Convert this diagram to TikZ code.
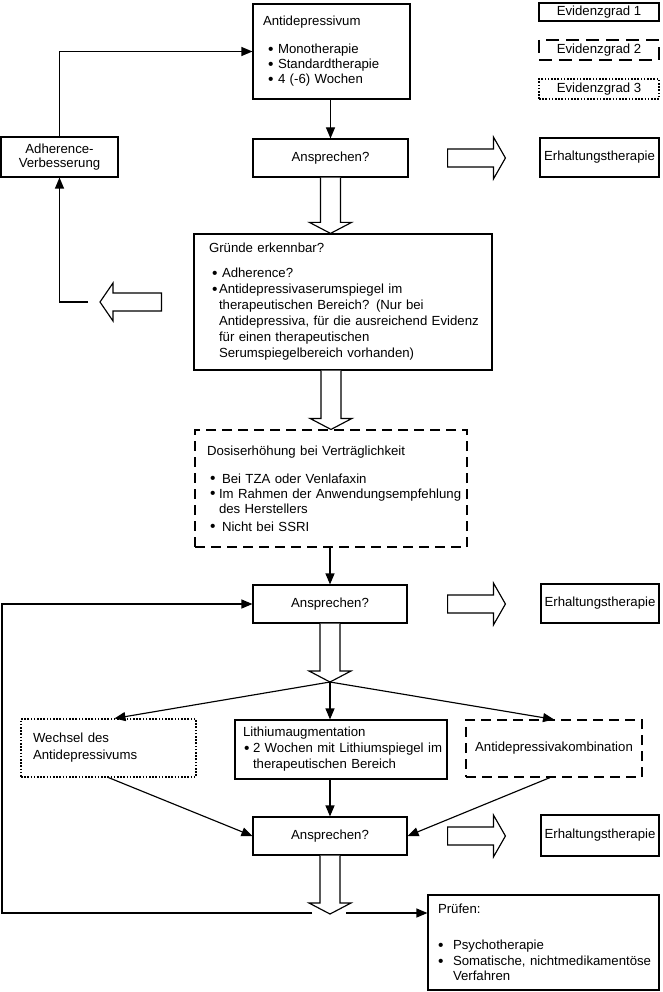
\documentclass[tikz,border=0pt]{standalone}
\usepackage{fontspec}
\setmainfont{Liberation Sans}
\usetikzlibrary{arrows.meta,calc}
\newcommand{\fs}{\fontsize{13.2}{15.5}\selectfont}
\newcommand{\lx}[1]{\leftskip=#1\relax\hyphenpenalty=10000\relax}
\newcommand{\bdot}{\smash{\raisebox{-0.6pt}{\fontsize{15.5}{15.5}\selectfont •}}}
\newcommand{\bu}[2]{\hspace*{#1}\makebox[#2][l]{\bdot}}
\newcommand{\blockdown}[3]{\path[blk] let \p1=(#1), \p2=(#2), \p3=(#3) in
  (\x1-10pt,\y2) -- (\x1-10pt,\y3+11pt) -- (\x1-21pt,\y3+11pt) -- (\x1,\y3) --
  (\x1+21pt,\y3+11pt) -- (\x1+10pt,\y3+11pt) -- (\x1+10pt,\y2);}
\newcommand{\blockright}[3]{\path[blk] let \p1=(#1), \p2=(#2), \p3=(#3) in
  (\x2,\y1+9pt) -- (\x3-12pt,\y1+9pt) -- (\x3-12pt,\y1+21pt) -- (\x3,\y1) --
  (\x3-12pt,\y1-21pt) -- (\x3-12pt,\y1-9pt) -- (\x2,\y1-9pt) -- cycle;}
\newcommand{\blockleft}[3]{\path[blk] let \p1=(#1), \p2=(#2), \p3=(#3) in
  (\x2,\y1+9pt) -- (\x3+13pt,\y1+9pt) -- (\x3+13pt,\y1+19pt) -- (\x3,\y1) --
  (\x3+13pt,\y1-19pt) -- (\x3+13pt,\y1-9pt) -- (\x2,\y1-9pt) -- cycle;}
\tikzset{
  base/.style={draw, line width=1.15pt, inner ysep=0pt, font=\fs},
  cbox/.style={base, inner xsep=2pt, align=center},
  lbox/.style={base, inner xsep=0pt, align=left},
  dashbox/.style={dash pattern=on 10pt off 6pt},
  dotbox/.style={dash pattern=on 1.6pt off 1.6pt},
  arr/.style={line width=1.15pt, -{Triangle[length=11pt,width=9pt]}},
  blk/.style={draw, line width=1.15pt, fill=white, line join=miter},
}
\begin{document}
\begin{tikzpicture}[x=1pt,y=-1pt]
\useasboundingbox (0,0) rectangle (662,992);

% legend
\node[cbox, minimum width=120, minimum height=18] (e1) at (599,12) {Evidenzgrad 1};
\node[cbox, dash pattern=on 13pt off 7pt, minimum width=120, minimum height=20] (e2) at (599,50) {Evidenzgrad 2};
\node[cbox, dotbox, minimum width=120, minimum height=20] (e3) at (599,89) {Evidenzgrad 3};

% top
\node[lbox, text width=157pt, minimum width=157, minimum height=95, font=\fontsize{13.2}{15}\selectfont] (A) at (331.5,51.5)
 {\lx{10pt}Antidepressivum\\[13pt]
  \bu{5pt}{10pt}Monotherapie\\
  \bu{5pt}{10pt}Standardtherapie\\
  \bu{5pt}{10pt}4 (-6) Wochen\par};

\node[cbox, minimum width=117, minimum height=40, font=\fontsize{13.2}{14}\selectfont] (adh) at (59.5,157) {Adherence-\\Verbesserung};
\node[cbox, minimum width=155, minimum height=38] (ans1) at (330.5,158) {Ansprechen?};
\node[cbox, minimum width=119, minimum height=39] (erh1) at (599.5,157.5) {Erhaltungstherapie};

\node[lbox, text width=298pt, minimum width=298, minimum height=136, font=\fontsize{13.2}{16}\selectfont] (gr) at (343,302)
 {\lx{15pt}Gründe erkennbar?\\[9pt]
  \bu{3pt}{10pt}Adherence?\\
  \bu{3pt}{7pt}Antidepressivaserumspiegel im\\
  \hspace*{10pt}therapeutischen Bereich? (Nur bei\\
  \hspace*{10pt}Antidepressiva, für die ausreichend Evidenz\\
  \hspace*{10pt}für einen therapeutischen\\
  \hspace*{10pt}Serumspiegelbereich vorhanden)\par};

\node[lbox, dashbox, text width=272pt, minimum width=272, minimum height=117, font=\fontsize{13.2}{15}\selectfont] (dos) at (331,488.5)
 {\lx{12pt}Dosiserhöhung bei Verträglichkeit\\[13pt]
  \bu{3pt}{12pt}Bei TZA oder Venlafaxin\\
  \bu{3pt}{9pt}Im Rahmen der Anwendungsempfehlung\\
  \hspace*{12pt}des Herstellers\\[3pt]
  \bu{3pt}{12pt}Nicht bei SSRI\par};

\node[cbox, minimum width=154, minimum height=38] (ans2) at (330,604) {Ansprechen?};
\node[cbox, minimum width=118, minimum height=39] (erh2) at (600,603.5) {Erhaltungstherapie};

\node[lbox, dotbox, text width=175pt, minimum width=175, minimum height=58, font=\fontsize{13.2}{17}\selectfont] (wech) at (108.5,748)
 {\lx{12pt}Wechsel des\\Antidepressivums\par};
\node[lbox, text width=212pt, minimum width=212, minimum height=59, font=\fontsize{13.2}{16}\selectfont] (lith) at (341,749.5)
 {\lx{8pt}Lithiumaugmentation\\
  \bu{1pt}{9pt}2 Wochen mit Lithiumspiegel im\\
  \hspace*{10pt}therapeutischen Bereich\par};
\node[cbox, dashbox, minimum width=176, minimum height=57] (komb) at (554,748.5) {Antidepressivakombination};

\node[cbox, minimum width=154, minimum height=38] (ans3) at (330,836) {Ansprechen?};
\node[cbox, minimum width=118, minimum height=41] (erh3) at (600,835.5) {Erhaltungstherapie};

\node[lbox, text width=231pt, minimum width=231, minimum height=95, font=\fontsize{13.2}{15.5}\selectfont] (pr) at (543.5,942.5)
 {\lx{10pt}Prüfen:\\[21pt]
  \bu{0pt}{15pt}Psychotherapie\\
  \bu{0pt}{15pt}Somatische, nichtmedikamentöse\\
  \hspace*{15pt}Verfahren\par};

% coordinates
\coordinate (sp) at (330,682);
\coordinate (tp) at (330,914);
\coordinate (lb) at (88,302);
\coordinate (lt) at (100,302);
\coordinate (bl) at (312,913);
\coordinate (br) at (346,913);
\coordinate (lx) at (2,913);

% block arrows
\blockdown{ans1.south}{ans1.south}{ans1.south |- gr.north}
\blockdown{dos.north}{gr.south}{dos.north}
\blockdown{ans2.south}{ans2.south}{sp}
\blockdown{ans3.south}{ans3.south}{tp}
\blockright{ans1.east}{[xshift=39pt]ans1.east}{[xshift=-34pt]erh1.west}
\blockright{ans2.east}{[xshift=40pt]ans2.east}{[xshift=-35pt]erh2.west}
\blockright{ans3.east}{[xshift=40pt]ans3.east}{[xshift=-35pt]erh3.west}
\blockleft{gr.west}{[xshift=-32pt]gr.west}{lt}

% connectors
\draw[arr] (ans1.north |- A.south) -- (ans1.north);
\draw[arr] (lb) -| (adh.south);
\draw[arr] (adh.north) |- (A.west);
\draw[arr] (ans2.north |- dos.south) -- (ans2.north);
\draw[arr] (sp) -- ([xshift=6pt]wech.north);
\draw[arr] (sp) -- (sp |- lith.north);
\draw[arr] (sp) -- (komb.north);
\draw[arr] (wech.south) -- (ans3.west);
\draw[arr] (sp |- lith.south) -- (sp |- ans3.north);
\draw[arr] ([xshift=-4pt]komb.south) -- (ans3.east);
\draw[arr] (bl) -- (lx) |- (ans2.west);
\draw[arr] (br) -- (pr.west |- br);
\end{tikzpicture}
\end{document}
